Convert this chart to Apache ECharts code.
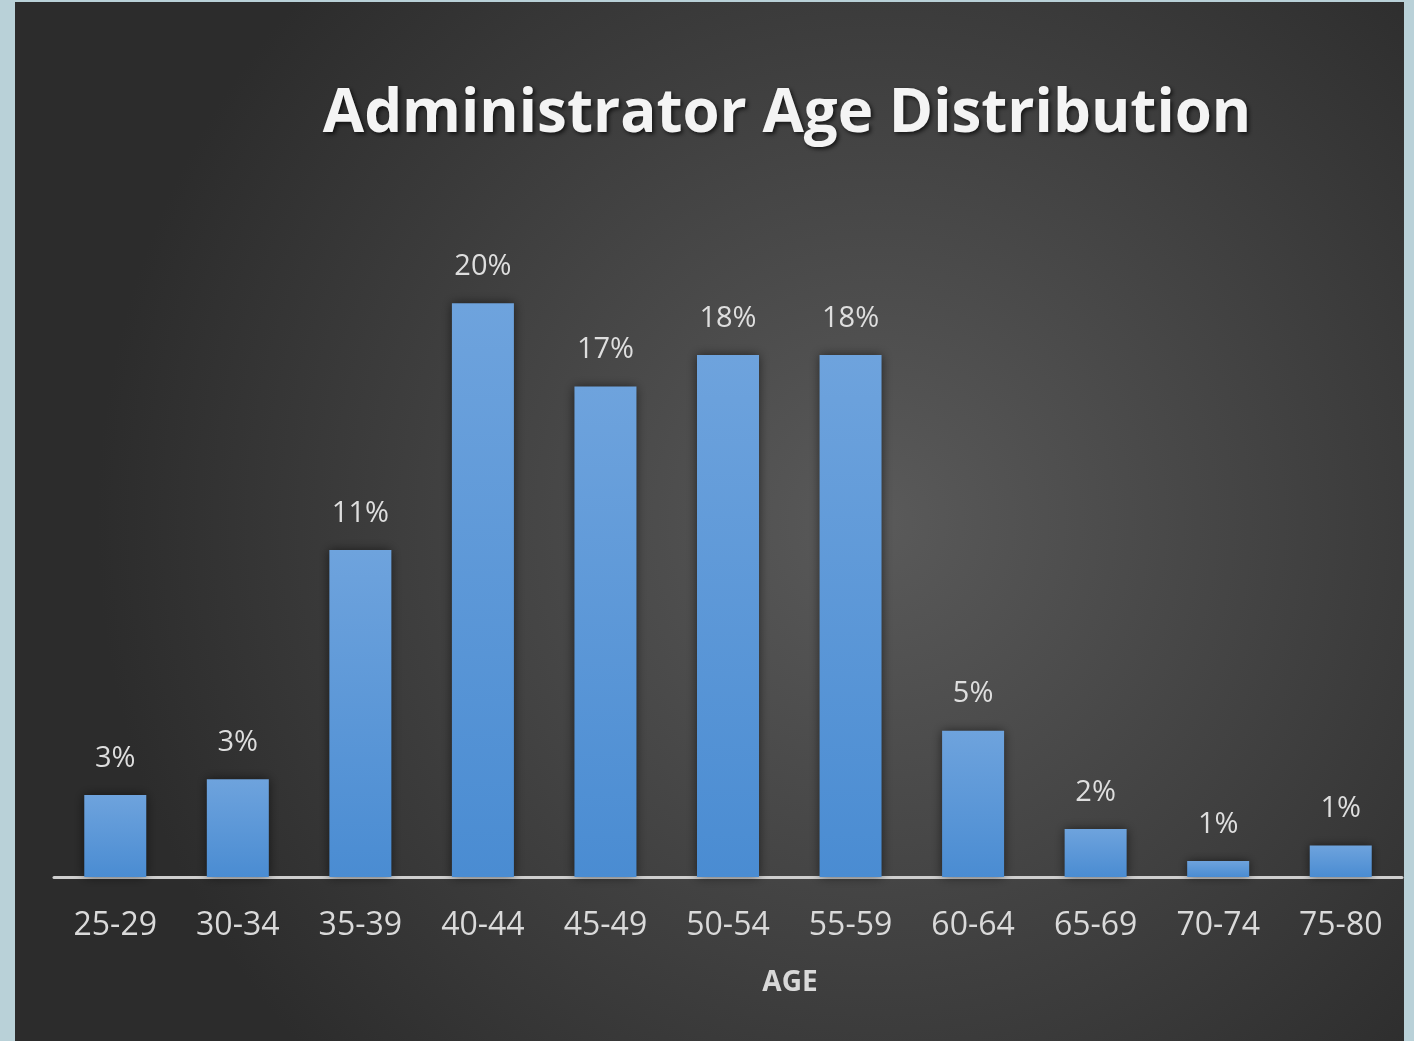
<!DOCTYPE html>
<html>
<head>
<meta charset="utf-8">
<script src="https://cdn.jsdelivr.net/npm/echarts@6/dist/echarts.min.js"></script>
<style>
html,body{margin:0;padding:0;background:#b9d1d8;}
#chart{width:1414px;height:1041px;}
</style>
</head>
<body>
<div id="chart"></div>
<script>
const categories = ['25-29','30-34','35-39','40-44','45-49','50-54','55-59','60-64','65-69','70-74','75-80'];
const values = [2.86, 3.41, 11.4, 20.0, 17.1, 18.2, 18.2, 5.1, 1.67, 0.56, 1.1];
const valueLabels = ['3%','3%','11%','20%','17%','18%','18%','5%','2%','1%','1%'];
const titleText = 'Administrator Age Distribution';
const axisTitle = 'AGE';

const chart = echarts.init(document.getElementById('chart'));
const font = '"Open Sans", "DejaVu Sans", sans-serif';
chart.setOption({
  backgroundColor: '#b9d1d8',
  animation: false,
  graphic: {
    z: -10,
    elements: [{
      type: 'rect', z: -10, silent: true,
      shape: {x: 15, y: 2, width: 1389, height: 1039},
      style: {
        fill: {
          type: 'radial', x: 0.62, y: 0.5, r: 0.75,
          colorStops: [{offset: 0, color: '#5a5a5a'}, {offset: 1, color: '#2c2c2c'}]
        }
      }
    }]
  },
  title: {
    text: titleText,
    left: 782, top: 80, textAlign: 'center',
    textStyle: {
      fontFamily: font, fontWeight: 'bold', fontSize: 60, color: '#f4f4f4',
      textShadowColor: 'rgba(0,0,0,0.7)', textShadowBlur: 4, textShadowOffsetX: 2, textShadowOffsetY: 2
    }
  },
  grid: {left: 54, right: 12, top: 246, bottom: 164, containLabel: false},
  xAxis: {
    type: 'category',
    data: categories,
    name: axisTitle,
    nameLocation: 'middle',
    nameGap: 92,
    nameTextStyle: {fontFamily: font, fontWeight: 'bold', fontSize: 28, color: '#d9d9d9', padding: [0, 0, 0, 124]},
    axisLine: {lineStyle: {color: '#cfcfcf', width: 3}},
    axisTick: {show: false},
    axisLabel: {fontFamily: font, fontSize: 32, color: '#dadada', margin: 33}
  },
  yAxis: {
    type: 'value', min: 0, max: 22, show: false,
    splitLine: {show: false}
  },
  series: [{
    type: 'bar',
    data: values,
    barWidth: 62,
    itemStyle: {
      color: {
        type: 'linear', x: 0, y: 0, x2: 0, y2: 1,
        colorStops: [{offset: 0, color: '#6ea3dd'}, {offset: 1, color: '#4a8cd2'}]
      },
      shadowColor: 'rgba(0,0,0,0.55)', shadowBlur: 10
    },
    label: {
      show: true, position: 'top', distance: 22,
      fontFamily: font, fontSize: 29, color: '#dedede',
      formatter: p => valueLabels[p.dataIndex]
    }
  }]
});
</script>
</body>
</html>
